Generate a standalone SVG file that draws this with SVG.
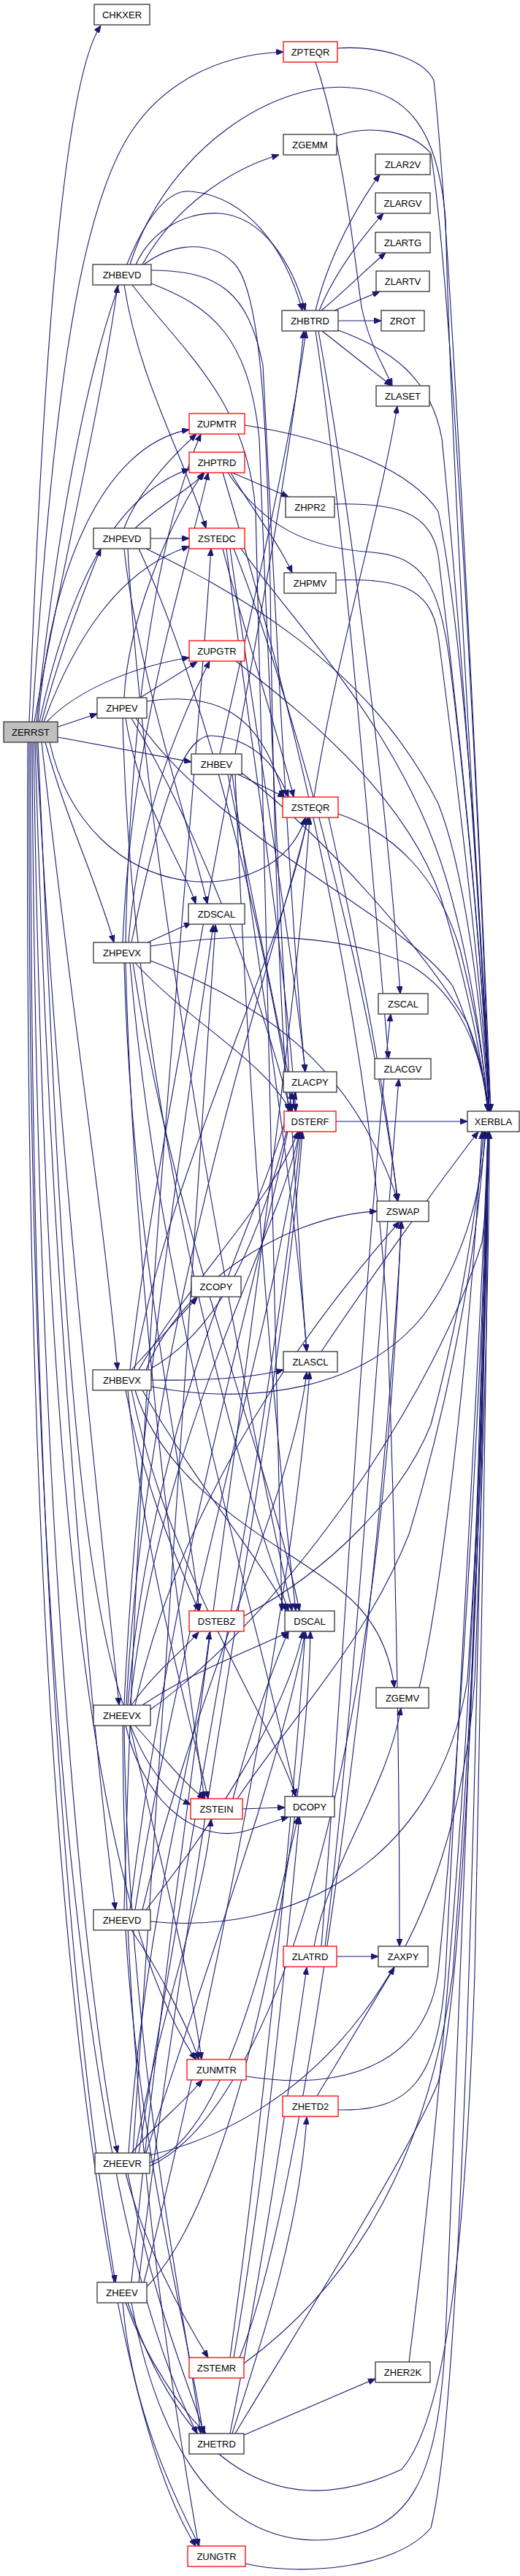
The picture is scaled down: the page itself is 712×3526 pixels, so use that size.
<svg xmlns="http://www.w3.org/2000/svg" width="712" height="3526" viewBox="0 0 712 3526">
<style>
.n rect{fill:#fff;stroke:#333;stroke-width:1.3}
.r rect{fill:#fff;stroke:#f00;stroke-width:1.3}
text{font-family:"Liberation Sans",Arial,sans-serif;font-size:13px;text-anchor:middle;fill:#000}
#edges path{fill:none;stroke:#191970;stroke-width:1.1;marker-end:url(#a)}
</style>
<defs>
<marker id="a" markerWidth="10" markerHeight="8" refX="10" refY="4" orient="auto" markerUnits="userSpaceOnUse"><path d="M0,0L10,4L0,8z" fill="#191970" stroke="#191970" stroke-width="1"/></marker>
</defs>
<rect width="712" height="3526" fill="#fff"/>
<g id="edges">
<path d="M40,988 C55,600 80,120 138,35"/>
<path d="M44,988 C70,600 100,300 180,180 C220,120 290,75 388,71"/>
<path d="M47,988 C80,800 140,550 161,391"/>
<path d="M50,988 C90,600 170,250 262,262 C340,270 390,340 414,425"/>
<path d="M52,988 C70,780 140,610 259,588"/>
<path d="M54,988 C90,820 150,680 259,642"/>
<path d="M57,988 C80,900 110,820 138,751"/>
<path d="M60,988 C100,880 160,780 259,748"/>
<path d="M64,988 C100,950 170,915 259,900"/>
<path d="M79,995 L133,977"/>
<path d="M79,1009 L262,1043"/>
<path d="M68,1016 C120,1250 380,1250 418,1119"/>
<path d="M62,1016 C90,1120 130,1200 156,1290"/>
<path d="M57,1016 C100,1400 140,1650 161,1875"/>
<path d="M52,1016 C90,1900 110,2400 261,2470"/>
<path d="M50,1016 C80,1600 140,2100 163,2334"/>
<path d="M48,1016 C70,1800 130,2400 158,2614"/>
<path d="M46,1016 C60,2000 120,2600 268,2819"/>
<path d="M44,1016 C50,2200 130,2800 161,2947"/>
<path d="M42,1016 C40,2400 130,2950 158,3124"/>
<path d="M40,1016 C35,2500 150,3100 270,3331"/>
<path d="M38,1016 C30,2600 150,3300 268,3485"/>

<path d="M195,362 C240,280 320,230 382,212"/>
<path d="M178,362 C230,200 380,110 480,120 C560,125 600,180 610,300 C620,700 660,1300 672,1521"/>
<path d="M186,362 C210,310 260,290 300,292 C360,296 400,360 418,425"/>
<path d="M170,390 C190,520 250,620 282,723"/>
<path d="M207,370 C300,370 340,400 360,500 C375,800 400,1300 418,1467"/>
<path d="M197,362 C240,330 290,330 320,360 C360,400 365,600 370,800 C375,1200 385,1400 395,1521"/>
<path d="M207,388 C290,420 340,460 355,600 C370,1000 400,1600 420,1850"/>
<path d="M181,390 C250,480 340,550 350,700 C365,1200 375,1900 386,2205"/>

<path d="M206,737 L259,737"/>
<path d="M170,723 C185,680 230,630 269,594"/>
<path d="M185,723 C220,690 260,670 280,647"/>
<path d="M170,751 C185,900 250,1100 284,1237"/>
<path d="M200,751 C300,800 500,900 600,1100 C640,1200 660,1400 670,1521"/>
<path d="M190,751 C260,900 350,1200 400,1521"/>
<path d="M175,751 C200,1200 330,1900 400,2205"/>

<path d="M192,955 L270,906"/>
<path d="M170,955 C175,850 230,720 278,647"/>
<path d="M201,960 C300,945 360,980 388,1091"/>
<path d="M172,983 C190,1100 250,1180 268,1237"/>
<path d="M180,983 C250,1100 340,1300 398,1521"/>
<path d="M168,983 C180,1500 320,2000 395,2205"/>
<path d="M186,983 C300,1150 550,1250 620,1350 C650,1420 665,1480 670,1521"/>

<path d="M301,1032 C330,900 400,600 419,453"/>
<path d="M326,1060 L390,1091"/>
<path d="M331,1058 C450,1150 580,1300 640,1400 C660,1450 665,1490 668,1521"/>
<path d="M312,1060 C340,1200 380,1400 405,1521"/>
<path d="M318,1060 C350,1300 400,1600 420,1850"/>
<path d="M322,1060 C340,1500 370,1900 405,2205"/>

<path d="M202,1290 L262,1263"/>
<path d="M168,1290 C180,1000 250,800 285,647"/>
<path d="M172,1290 C180,900 230,700 275,594"/>
<path d="M176,1290 C190,1100 260,960 287,905"/>
<path d="M206,1295 C300,1280 450,1270 560,1320 C630,1360 660,1440 668,1521"/>
<path d="M206,1315 C350,1370 480,1450 545,1644"/>
<path d="M180,1290 C220,1100 250,1005 290,1007 C340,1010 375,1040 395,1091"/>
<path d="M185,1318 C260,1400 360,1450 398,1521"/>
<path d="M170,1318 C180,1700 250,2000 273,2205"/>
<path d="M172,1318 C185,1800 250,2250 280,2462"/>
<path d="M178,1318 C220,1800 350,2200 405,2459"/>
<path d="M182,1318 C240,1700 370,2000 410,2205"/>

<path d="M180,1875 L270,1776"/>
<path d="M207,1889 C290,1890 350,1885 388,1875"/>
<path d="M207,1898 C350,1925 500,1900 580,1800 C640,1720 660,1620 665,1549"/>
<path d="M200,1875 C240,1770 380,1665 516,1658"/>
<path d="M207,1873 C300,1820 360,1700 405,1495"/>
<path d="M190,1875 C260,1750 370,1650 408,1549"/>
<path d="M178,1875 C220,1500 380,800 416,453"/>
<path d="M184,1875 C230,1600 390,1300 421,1119"/>
<path d="M185,1903 C230,2050 400,2120 470,2180 C520,2220 535,2270 540,2310"/>
<path d="M172,1903 C200,2050 250,2150 272,2205"/>
<path d="M175,1903 C200,2150 260,2350 285,2462"/>
<path d="M195,1903 C280,2050 370,2150 392,2205"/>
<path d="M180,1903 C230,2150 370,2350 405,2459"/>

<path d="M180,2334 C210,2290 250,2260 272,2234"/>
<path d="M195,2334 C260,2290 340,2260 395,2234"/>
<path d="M170,2334 C190,1900 260,1500 292,1266"/>
<path d="M175,2334 C210,1900 370,1650 400,1495"/>
<path d="M178,2334 C220,1950 380,1700 410,1549"/>
<path d="M173,2334 C200,1800 380,1300 422,1119"/>
<path d="M185,2334 C260,2000 480,1750 547,1672"/>
<path d="M206,2340 C400,2200 600,1900 660,1700 C668,1640 670,1580 670,1549"/>
<path d="M185,2362 C220,2400 250,2440 280,2462"/>
<path d="M172,2362 C200,2480 280,2525 340,2505 C370,2495 385,2490 395,2487"/>
<path d="M178,2362 C220,2550 260,2700 276,2819"/>
<path d="M168,2362 C170,2900 240,3300 272,3485"/>
<path d="M170,2362 C175,2800 250,3150 275,3331"/>

<path d="M170,2614 C190,1800 260,1200 289,751"/>
<path d="M178,2614 C240,2100 370,1700 404,1495"/>
<path d="M185,2614 C250,2200 380,1800 410,1549"/>
<path d="M195,2614 C270,2300 400,2050 420,1878"/>
<path d="M200,2614 C290,2500 390,2350 415,2233"/>
<path d="M206,2630 C400,2650 600,2550 640,2300 C660,2000 668,1700 668,1549"/>
<path d="M180,2642 C220,2700 260,2780 272,2819"/>
<path d="M172,2642 C190,2950 260,3200 278,3331"/>

<path d="M180,2947 C210,2910 250,2880 277,2847"/>
<path d="M172,2975 C200,3080 250,3170 285,3227"/>
<path d="M205,2950 C420,2900 620,2700 650,2300 C665,1900 670,1700 670,1549"/>
<path d="M175,2975 C210,3150 260,3270 280,3331"/>
<path d="M176,2947 C200,2600 270,2400 287,2234"/>
<path d="M185,2947 C220,2750 280,2600 289,2490"/>
<path d="M205,2960 C300,2930 360,2700 408,2487"/>
<path d="M200,2947 C280,2700 390,2400 418,2233"/>
<path d="M190,2947 C260,2500 380,1900 412,1549"/>
<path d="M182,2947 C230,2300 270,1700 295,1266"/>
<path d="M205,2965 C350,2900 520,2500 549,1672"/>

<path d="M172,3152 C200,3230 250,3300 282,3331"/>
<path d="M168,3152 C180,3300 240,3420 273,3485"/>
<path d="M175,3152 C260,3400 400,3450 550,3380 C620,3300 640,3000 650,2700 C660,2200 668,1800 668,1549"/>
<path d="M180,3124 C240,2500 400,1500 424,1119"/>
<path d="M190,3124 C250,2600 390,1900 414,1549"/>
<path d="M197,3124 C280,2800 400,2200 424,1878"/>
<path d="M201,3130 C330,3000 420,2500 425,2233"/>
<path d="M180,3152 C230,3420 350,3490 460,3475 C560,3460 600,3400 610,3200 C630,2700 660,2000 668,1549"/>

<path d="M334,3333 L514,3256"/>
<path d="M315,3331 C350,3150 390,2900 420,2693"/>
<path d="M318,3331 C360,3200 410,3050 420,2898"/>
<path d="M322,3331 C400,3200 560,2950 600,2850 C640,2700 660,2000 668,1549"/>

<path d="M434,2869 L540,2693"/>
<path d="M463,2888 C560,2890 600,2850 610,2700 C630,2300 660,1800 668,1549"/>
<path d="M461,2678 L518,2678"/>
<path d="M430,2664 C450,2550 530,2450 549,2338"/>
<path d="M445,2664 C480,2400 520,1800 546,1477"/>
<path d="M440,2664 C470,2300 500,1700 535,1388"/>
<path d="M560,3233 C590,3000 640,2500 655,2000 C662,1800 666,1650 668,1549"/>
<path d="M574,2310 C600,2200 640,1900 660,1549"/>

<path d="M461,186 C500,172 560,175 590,210 C620,400 660,1200 670,1521"/>
<path d="M462,66 C520,62 580,80 594,110 C615,300 655,1100 672,1521"/>
<path d="M432,85 C470,200 485,350 495,420 C505,470 525,500 537,528"/>
<path d="M458,690 C540,688 590,700 600,760 C630,1000 660,1300 670,1521"/>
<path d="M460,794 C540,792 590,800 600,870 C630,1100 660,1350 670,1521"/>
<path d="M463,1114 C540,1140 600,1200 630,1300 C655,1400 665,1470 668,1521"/>
<path d="M430,1091 C460,900 520,700 544,556"/>
<path d="M450,1119 C490,1300 530,1500 544,1644"/>
<path d="M460,1535 L640,1535"/>
<path d="M440,1850 C500,1760 600,1620 655,1549"/>
<path d="M334,2212 C450,2150 550,2050 590,1950 C630,1800 655,1650 662,1549"/>
<path d="M332,2476 L390,2474"/>
<path d="M319,2462 C340,2380 370,2290 395,2233"/>
<path d="M325,2462 C400,2350 500,2250 560,2100 C620,1900 655,1700 664,1549"/>
<path d="M337,2842 C450,2860 580,2840 600,2700 C630,2400 660,1900 668,1549"/>
<path d="M320,3227 C360,3000 390,2700 410,2487"/>
<path d="M315,3227 C360,2900 400,2500 418,2233"/>
<path d="M328,3227 C420,3000 520,2200 550,1672"/>
<path d="M334,3235 C450,3150 580,3000 620,2700 C650,2300 665,1900 668,1549"/>
<path d="M336,3509 C400,3525 540,3520 590,3460 C630,3300 650,2600 668,1549"/>
<path d="M335,582 C450,600 560,640 600,700 C640,900 660,1300 670,1521"/>
<path d="M323,905 C420,980 570,1100 610,1250 C640,1350 660,1450 668,1521"/>
<path d="M318,647 L395,680"/>
<path d="M316,647 C340,690 380,740 400,784"/>
<path d="M305,647 C350,800 500,1300 530,1800 C545,2200 547,2500 547,2664"/>
<path d="M312,647 C360,720 420,750 510,756 C580,762 600,800 615,900 C640,1100 662,1350 670,1521"/>
<path d="M305,751 C330,850 380,1000 402,1091"/>
<path d="M310,751 C340,1000 390,1300 405,1521"/>
<path d="M315,751 C350,1000 400,1300 418,1467"/>
<path d="M320,751 C380,900 500,1300 545,1644"/>
<path d="M330,751 C400,850 550,1000 610,1200 C640,1300 660,1420 668,1521"/>

<path d="M432,425 C450,350 490,280 520,239"/>
<path d="M437,425 C460,370 500,320 525,292"/>
<path d="M440,425 C470,400 500,370 528,346"/>
<path d="M458,425 L520,399"/>
<path d="M463,439 L522,439"/>
<path d="M441,453 L536,528"/>
<path d="M432,453 C470,700 510,1200 532,1449"/>
<path d="M436,453 C480,700 530,1100 548,1360"/>
<path d="M463,452 C540,480 590,520 605,600 C635,900 660,1300 670,1521"/>
</g>

<g id="ZERRST"><rect x="5" y="988" width="74" height="28" fill="#bfbfbf" stroke="#333" stroke-width="1.3"/><text x="42" y="1006.6">ZERRST</text></g>
<g id="CHKXER" class="n"><rect x="129" y="6" width="76" height="28"/><text x="167" y="24.6">CHKXER</text></g>
<g id="ZHBEVD" class="n"><rect x="127" y="362" width="80" height="28"/><text x="167" y="380.6">ZHBEVD</text></g>
<g id="ZHPEVD" class="n"><rect x="128" y="723" width="78" height="28"/><text x="167" y="741.6">ZHPEVD</text></g>
<g id="ZHPEV" class="n"><rect x="133" y="955" width="68" height="28"/><text x="167" y="973.6">ZHPEV</text></g>
<g id="ZHPEVX" class="n"><rect x="128" y="1290" width="78" height="28"/><text x="167" y="1308.6">ZHPEVX</text></g>
<g id="ZHBEVX" class="n"><rect x="127" y="1875" width="80" height="28"/><text x="167" y="1893.6">ZHBEVX</text></g>
<g id="ZHEEVX" class="n"><rect x="128" y="2334" width="78" height="28"/><text x="167" y="2352.6">ZHEEVX</text></g>
<g id="ZHEEVD" class="n"><rect x="128" y="2614" width="78" height="28"/><text x="167" y="2632.6">ZHEEVD</text></g>
<g id="ZHEEVR" class="n"><rect x="130" y="2947" width="75" height="28"/><text x="167.5" y="2965.6">ZHEEVR</text></g>
<g id="ZHEEV" class="n"><rect x="133" y="3124" width="68" height="28"/><text x="167" y="3142.6">ZHEEV</text></g>

<g id="ZUPMTR" class="r"><rect x="259" y="566" width="76" height="28"/><text x="297" y="584.6">ZUPMTR</text></g>
<g id="ZHPTRD" class="r"><rect x="259" y="619" width="76" height="28"/><text x="297" y="637.6">ZHPTRD</text></g>
<g id="ZSTEDC" class="r"><rect x="259" y="723" width="76" height="28"/><text x="297" y="741.6">ZSTEDC</text></g>
<g id="ZUPGTR" class="r"><rect x="259" y="877" width="76" height="28"/><text x="297" y="895.6">ZUPGTR</text></g>
<g id="ZHBEV" class="n"><rect x="262" y="1032" width="69" height="28"/><text x="296.5" y="1050.6">ZHBEV</text></g>
<g id="ZDSCAL" class="n"><rect x="258" y="1237" width="77" height="28"/><text x="296.5" y="1255.6">ZDSCAL</text></g>
<g id="ZCOPY" class="n"><rect x="262" y="1747" width="68" height="28"/><text x="296" y="1765.6">ZCOPY</text></g>
<g id="DSTEBZ" class="r"><rect x="259" y="2205" width="75" height="28"/><text x="296.5" y="2223.6">DSTEBZ</text></g>
<g id="ZSTEIN" class="r"><rect x="261" y="2462" width="71" height="28"/><text x="296.5" y="2480.6">ZSTEIN</text></g>
<g id="ZUNMTR" class="r"><rect x="256" y="2819" width="81" height="28"/><text x="296.5" y="2837.6">ZUNMTR</text></g>
<g id="ZSTEMR" class="r"><rect x="259" y="3227" width="75" height="28"/><text x="296.5" y="3245.6">ZSTEMR</text></g>
<g id="ZHETRD" class="n"><rect x="259" y="3331" width="75" height="28"/><text x="296.5" y="3349.6">ZHETRD</text></g>
<g id="ZUNGTR" class="r"><rect x="257" y="3485" width="79" height="28"/><text x="296.5" y="3503.6">ZUNGTR</text></g>

<g id="ZPTEQR" class="r"><rect x="388" y="57" width="74" height="28"/><text x="425" y="75.6">ZPTEQR</text></g>
<g id="ZGEMM" class="n"><rect x="388" y="184" width="73" height="28"/><text x="424.5" y="202.6">ZGEMM</text></g>
<g id="ZHBTRD" class="n"><rect x="386" y="425" width="77" height="28"/><text x="424.5" y="443.6">ZHBTRD</text></g>
<g id="ZHPR2" class="n"><rect x="391" y="680" width="67" height="28"/><text x="424.5" y="698.6">ZHPR2</text></g>
<g id="ZHPMV" class="n"><rect x="389" y="784" width="71" height="28"/><text x="424.5" y="802.6">ZHPMV</text></g>
<g id="ZSTEQR" class="r"><rect x="387" y="1091" width="76" height="28"/><text x="425" y="1109.6">ZSTEQR</text></g>
<g id="ZLACPY" class="n"><rect x="388" y="1467" width="73" height="28"/><text x="424.5" y="1485.6">ZLACPY</text></g>
<g id="DSTERF" class="r"><rect x="389" y="1521" width="71" height="28"/><text x="424.5" y="1539.6">DSTERF</text></g>
<g id="ZLASCL" class="n"><rect x="388" y="1850" width="74" height="28"/><text x="425" y="1868.6">ZLASCL</text></g>
<g id="DSCAL" class="n"><rect x="390" y="2205" width="68" height="28"/><text x="424" y="2223.6">DSCAL</text></g>
<g id="DCOPY" class="n"><rect x="390" y="2459" width="68" height="28"/><text x="424" y="2477.6">DCOPY</text></g>
<g id="ZLATRD" class="r"><rect x="388" y="2664" width="73" height="28"/><text x="424.5" y="2682.6">ZLATRD</text></g>
<g id="ZHETD2" class="r"><rect x="387" y="2869" width="76" height="28"/><text x="425" y="2887.6">ZHETD2</text></g>

<g id="ZLAR2V" class="n"><rect x="514" y="211" width="75" height="28"/><text x="551.5" y="229.6">ZLAR2V</text></g>
<g id="ZLARGV" class="n"><rect x="514" y="264" width="75" height="28"/><text x="551.5" y="282.6">ZLARGV</text></g>
<g id="ZLARTG" class="n"><rect x="514" y="318" width="75" height="28"/><text x="551.5" y="336.6">ZLARTG</text></g>
<g id="ZLARTV" class="n"><rect x="515" y="371" width="73" height="28"/><text x="551.5" y="389.6">ZLARTV</text></g>
<g id="ZROT" class="n"><rect x="522" y="425" width="59" height="28"/><text x="551.5" y="443.6">ZROT</text></g>
<g id="ZLASET" class="n"><rect x="515" y="528" width="73" height="28"/><text x="551.5" y="546.6">ZLASET</text></g>
<g id="ZSCAL" class="n"><rect x="518" y="1360" width="68" height="28"/><text x="552" y="1378.6">ZSCAL</text></g>
<g id="ZLACGV" class="n"><rect x="513" y="1449" width="77" height="28"/><text x="551.5" y="1467.6">ZLACGV</text></g>
<g id="ZSWAP" class="n"><rect x="516" y="1644" width="71" height="28"/><text x="551.5" y="1662.6">ZSWAP</text></g>
<g id="ZGEMV" class="n"><rect x="515" y="2310" width="72" height="28"/><text x="551" y="2328.6">ZGEMV</text></g>
<g id="ZAXPY" class="n"><rect x="518" y="2664" width="68" height="28"/><text x="552" y="2682.6">ZAXPY</text></g>
<g id="ZHER2K" class="n"><rect x="514" y="3233" width="75" height="28"/><text x="551.5" y="3251.6">ZHER2K</text></g>

<g id="XERBLA" class="n"><rect x="640" y="1521" width="71" height="28"/><text x="675.5" y="1539.6">XERBLA</text></g>
</svg>
